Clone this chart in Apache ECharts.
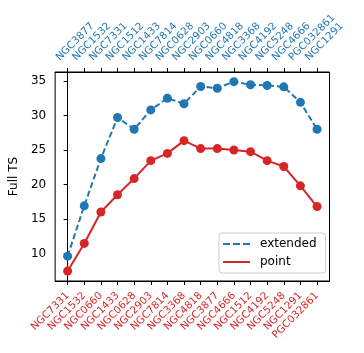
<!DOCTYPE html>
<html>
<head>
<meta charset="utf-8">
<script src="https://cdn.jsdelivr.net/npm/echarts@6/dist/echarts.min.js"></script>
<style>
  html, body { margin: 0; padding: 0; background: #fff; }
  #chart { width: 364px; height: 353px; }
</style>
</head>
<body>
<div id="chart"></div>
<script>
// extended sources (top axis, blue)
const extCats = ['NGC3877', 'NGC1532', 'NGC7331', 'NGC1512', 'NGC1433', 'NGC7814', 'NGC0628', 'NGC2903',
  'NGC0660', 'NGC4818', 'NGC3368', 'NGC4192', 'NGC5248', 'NGC4666', 'PGC032861', 'NGC1291']
const extVals = [9.6, 16.9, 23.75, 29.7, 28.0, 30.8, 32.5, 31.7, 34.2, 33.95, 34.9, 34.45, 34.35, 34.15, 31.9, 28.0]
// point sources (bottom axis, red)
const ptCats = ['NGC7331', 'NGC1532', 'NGC0660', 'NGC1433', 'NGC0628', 'NGC2903', 'NGC7814', 'NGC3368',
  'NGC4818', 'NGC3877', 'NGC4666', 'NGC1512', 'NGC4192', 'NGC5248', 'NGC1291', 'PGC032861']
const ptVals = [7.45, 11.45, 16.0, 18.5, 20.85, 23.45, 24.5, 26.35, 25.2, 25.2, 25.0, 24.75, 23.45, 22.6, 19.8, 16.8]
const yTicks = [10, 15, 20, 25, 30, 35]

const BLUE = '#1f77b4'
const RED = '#d62728'
const FONT = 'DejaVu Sans'
const idx = extCats.map((c, i) => i)

const chart = echarts.init(document.getElementById('chart'))

function xAxisCfg(pos, cats, color, labelOpts) {
  return {
    type: 'value',
    position: pos,
    min: -0.75,
    max: 15.75,
    splitLine: { show: false },
    axisLine: { show: true, lineStyle: { color: '#000', width: 1 } },
    axisTick: { show: true, length: 4, customValues: idx, lineStyle: { color: '#000' } },
    axisLabel: Object.assign({
      customValues: idx,
      color: color,
      fontSize: 10.3,
      fontFamily: FONT,
      formatter: v => cats[Math.round(v)]
    }, labelOpts)
  }
}

const option = {
  animation: false,
  textStyle: { fontFamily: FONT },
  grid: {
    left: 50.5, right: 34.5, top: 72, bottom: 72,
    show: true, borderColor: '#000', borderWidth: 1
  },
  legend: {
    orient: 'vertical',
    left: 219, top: 233,
    padding: [5, 9, 5, 4],
    itemGap: 6,
    itemWidth: 27,
    itemHeight: 2,
    borderColor: '#cccccc',
    borderWidth: 1,
    borderRadius: 3,
    backgroundColor: 'rgba(255,255,255,0.8)',
    textStyle: { fontSize: 12, fontFamily: FONT, color: '#000', padding: [0, 0, 0, 5] },
    data: [
      { name: 'extended', icon: 'path://M0,0h7v2h-7zM10,0h7v2h-7zM20,0h7v2h-7z' },
      { name: 'point', icon: 'path://M0,0h27v2h-27z' }
    ]
  },
  xAxis: [
    xAxisCfg('bottom', ptCats, RED, { rotate: 45, margin: 13 }),
    xAxisCfg('top', extCats, BLUE, { rotate: -45, margin: 3, verticalAlign: 'bottom', padding: [0, 0, 9, 0] })
  ],
  yAxis: {
    type: 'value',
    min: 6.0,
    max: 36.3,
    name: 'Full TS',
    nameLocation: 'middle',
    nameGap: 31,
    nameTextStyle: { fontSize: 12, fontFamily: FONT, color: '#000' },
    splitLine: { show: false },
    axisLine: { show: true, lineStyle: { color: '#000', width: 1 } },
    axisTick: { show: true, length: 4, customValues: yTicks, lineStyle: { color: '#000' } },
    axisLabel: { customValues: yTicks, fontSize: 12, fontFamily: FONT, color: '#000', margin: 9 }
  },
  series: [
    {
      name: 'extended',
      type: 'line',
      xAxisIndex: 1,
      data: extVals.map((v, i) => [i, v]),
      symbol: 'circle',
      symbolSize: 9,
      color: BLUE,
      lineStyle: { color: BLUE, width: 2, type: [6, 3] },
      itemStyle: { color: BLUE }
    },
    {
      name: 'point',
      type: 'line',
      xAxisIndex: 0,
      data: ptVals.map((v, i) => [i, v]),
      symbol: 'circle',
      symbolSize: 9,
      color: RED,
      lineStyle: { color: RED, width: 2 },
      itemStyle: { color: RED }
    }
  ]
}

chart.setOption(option)
</script>
</body>
</html>
